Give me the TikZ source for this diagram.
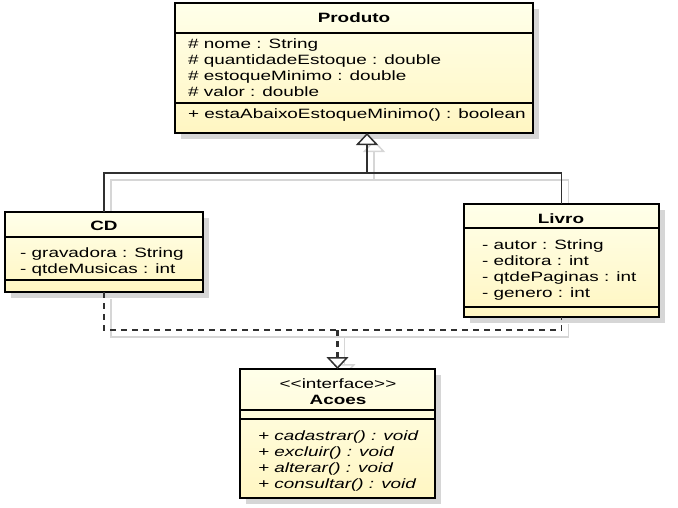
\documentclass[tikz,border=0pt]{standalone}
\usepackage{fontspec}
\newfontfamily\umlfont{Liberation Sans}[FakeStretch=1.4,Ligatures=TeXOff]
\definecolor{umlfill}{HTML}{FFFFEA}
\definecolor{umlfilldark}{HTML}{FFF6C2}
\definecolor{umlline}{HTML}{303030}
\definecolor{umlshadow}{HTML}{D6D6D6}
\usetikzlibrary{arrows.meta,shadows}
\pgfdeclarelayer{background}
\pgfsetlayers{background,main}

\begin{document}
\begin{tikzpicture}[x=1pt,y=-1pt,
  classbox/.style={draw=black,line width=2.5pt,top color=umlfill,bottom color=umlfilldark,
    anchor=north west,inner sep=0pt,outer sep=0pt,
    drop shadow={shadow xshift=6pt,shadow yshift=-6pt,fill=umlshadow,opacity=1}},
  sep/.style={black,line width=1.2pt},
  title/.style={anchor=base,inner sep=0pt,font=\umlfont\fontsize{13.5}{16}\selectfont\bfseries},
  attr/.style={anchor=base west,inner sep=0pt,font=\umlfont\fontsize{13.5}{16}\selectfont},
  op/.style={attr,font=\umlfont\fontsize{13.5}{16}\selectfont\itshape},
  gen/.style={umlline,line width=1.5pt},
  real/.style={umlline,line width=1.5pt,dash pattern=on 6pt off 5pt},
  hollow/.style={-{Triangle[width=22pt,length=12pt,fill=white,line width=1.5pt]}}]
\useasboundingbox (0,0) rectangle (678,507);
% classes
\node[classbox,minimum width=358pt,minimum height=130pt] (produto) at (175,3) {};
\node[classbox,minimum width=198pt,minimum height=80pt] (cd) at (5,212) {};
\node[classbox,minimum width=195pt,minimum height=113pt] (livro) at (464,204) {};
\node[classbox,minimum width=195pt,minimum height=129pt] (acoes) at (240,369) {};
\foreach \y in {33,103} \draw[sep] (175,\y) -- +(358,0);
\foreach \y in {237,280} \draw[sep] (5,\y) -- +(198,0);
\foreach \y in {228,307} \draw[sep] (464,\y) -- +(195,0);
\foreach \y in {410,419} \draw[sep] (240,\y) -- +(195,0);
% texts
\node[title] (produto-t) at (354,22) {Produto};
\foreach \t [count=\i] in {\# nome : String,\# quantidadeEstoque : double,\# estoqueMinimo : double,\# valor : double}
  \node[attr] (produto-a\i) at (188,32+16*\i) {\t};
\node[attr] (produto-o1) at (188,118) {+ estaAbaixoEstoqueMinimo() : boolean};
\node[title] (cd-t) at (104,230) {CD};
\foreach \t [count=\i] in {- gravadora : String,- qtdeMusicas : int}
  \node[attr] (cd-a\i) at (20,241+16*\i) {\t};
\node[title] (livro-t) at (561,223) {Livro};
\foreach \t [count=\i] in {- autor : String,- editora : int,- qtdePaginas : int,- genero : int}
  \node[attr] (livro-a\i) at (482,233+16*\i) {\t};
\node[title,font=\umlfont\fontsize{13.5}{16}\selectfont] (acoes-s) at (338,388) {<<interface>>};
\node[title] (acoes-t) at (338,404) {Acoes};
\foreach \t [count=\i] in {cadastrar,excluir,alterar,consultar}
  \node[op] (acoes-o\i) at (258,424+16*\i) {+ \t() : void};
% connectors
\coordinate (genjoin) at (367,173);
\coordinate (produto-in) at ([xshift=13pt]produto.south);
\coordinate (realjoin) at (acoes.north |- 0,330);
\begin{pgfonlayer}{background}
\begin{scope}[transform canvas={shift={(7pt,-7pt)}},umlshadow,line width=1.5pt]
\draw (cd.north) |- (genjoin) -| (livro.north);
\draw[hollow] (genjoin) -- (produto-in);
\draw (cd.south) |- (realjoin) -| (livro.south);
\draw[hollow] (realjoin) -- (acoes.north);
\end{scope}
\end{pgfonlayer}
\draw[gen] (cd.north) |- (genjoin) -| (livro.north);
\draw[gen,hollow] (genjoin) -- (produto-in);
\draw[real] (cd.south) |- (realjoin) -| (livro.south);
\draw[real,line width=2.5pt,hollow] (realjoin) -- (acoes.north);
\end{tikzpicture}
\end{document}
